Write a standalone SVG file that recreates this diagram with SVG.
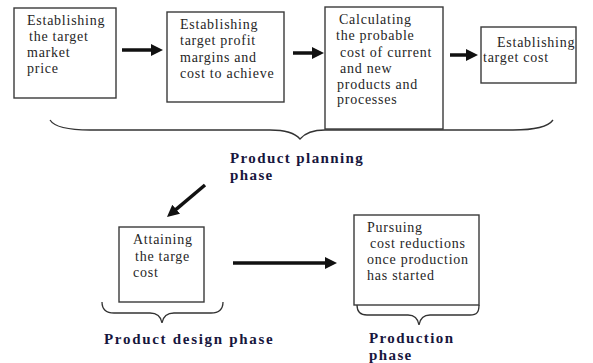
<svg xmlns="http://www.w3.org/2000/svg" width="593" height="363" viewBox="0 0 593 363">
<style>
.box{fill:#fff;stroke:#3a3a3a;stroke-width:1.4}
.t{font-family:"Liberation Serif","Times New Roman",serif;font-size:14px;letter-spacing:0.75px;fill:#262626}
.b{font-family:"Liberation Serif","Times New Roman",serif;font-size:15px;font-weight:bold;letter-spacing:1.4px;fill:#17163d}
.arr{stroke:#111;stroke-width:3.5;fill:none}
.brace{stroke:#333;stroke-width:1.3;fill:none}
</style>
<defs>
<marker id="ah" markerUnits="userSpaceOnUse" markerWidth="14" markerHeight="14" refX="4" refY="6" orient="auto">
<path d="M0,0 L12,6 L0,12 z" fill="#111"/>
</marker>
</defs>
<rect width="593" height="363" fill="#fff"/>
<g id="n1">
<rect class="box" x="14" y="8" width="102" height="90"/>
<text class="t"><tspan x="27" y="25">Establishing</tspan><tspan x="29" y="41">the target</tspan><tspan x="27" y="57">market</tspan><tspan x="27" y="73">price</tspan></text>
</g>
<g id="n2">
<rect class="box" x="167" y="12" width="117" height="90"/>
<text class="t"><tspan x="180" y="29">Establishing</tspan><tspan x="180" y="45">target profit</tspan><tspan x="180" y="62">margins and</tspan><tspan x="180" y="78">cost to achieve</tspan></text>
</g>
<g id="n3">
<rect class="box" x="325" y="7" width="118" height="122"/>
<text class="t"><tspan x="339" y="24">Calculating</tspan><tspan x="336" y="40">the probable</tspan><tspan x="340" y="57">cost of current</tspan><tspan x="340" y="73">and new</tspan><tspan x="337" y="89">products and</tspan><tspan x="337" y="104">processes</tspan></text>
</g>
<g id="n4">
<rect class="box" x="481" y="27" width="95" height="56"/>
<text class="t"><tspan x="497" y="47">Establishing</tspan><tspan x="483" y="62">target cost</tspan></text>
</g>
<g id="n5">
<rect class="box" x="119" y="227" width="85" height="75"/>
<text class="t"><tspan x="133" y="244">Attaining</tspan><tspan x="135" y="261">the targe</tspan><tspan x="133" y="277">cost</tspan></text>
</g>
<g id="n6">
<rect class="box" x="354" y="215" width="125" height="90"/>
<text class="t"><tspan x="367" y="232">Pursuing</tspan><tspan x="370" y="248">cost reductions</tspan><tspan x="367" y="264">once production</tspan><tspan x="367" y="280">has started</tspan></text>
</g>
<g id="labels">
<text class="b"><tspan x="230" y="163">Product planning</tspan><tspan x="230" y="180">phase</tspan></text>
<text class="b" x="104" y="344" style="letter-spacing:1.7px">Product design phase</text>
<text class="b"><tspan x="369" y="343">Production</tspan><tspan x="369" y="360">phase</tspan></text>
</g>
<g id="braces">
<path class="brace" d="M50,120 C55,128 70,130 90,130 L270,130 C285,130 295,133 300,139 C305,133 312,130 325,130 L513,130 C535,130 548,127 553,120"/>
<path class="brace" d="M102,302 C102,310 106,313 114,313 L150,313 C157,313 161,317 162,323 C163,317 167,313 174,313 L211,313 C219,313 223,310 223,302"/>
<path class="brace" d="M357,305 C357,312 360,315 367,315 L408,315 C415,315 418,319 419,325 C420,319 423,315 430,315 L470,315 C477,315 479,312 479,305"/>
</g>
<g id="connectors">
<line class="arr" x1="122" y1="50" x2="155" y2="50" marker-end="url(#ah)"/>
<line class="arr" x1="293" y1="53" x2="316" y2="53" marker-end="url(#ah)"/>
<line class="arr" x1="450" y1="55" x2="470" y2="55" marker-end="url(#ah)"/>
<line class="arr" x1="205" y1="185" x2="173.1" y2="211.8" marker-end="url(#ah)"/>
<line class="arr" x1="233" y1="263" x2="329" y2="263" marker-end="url(#ah)"/>
</g>
</svg>
